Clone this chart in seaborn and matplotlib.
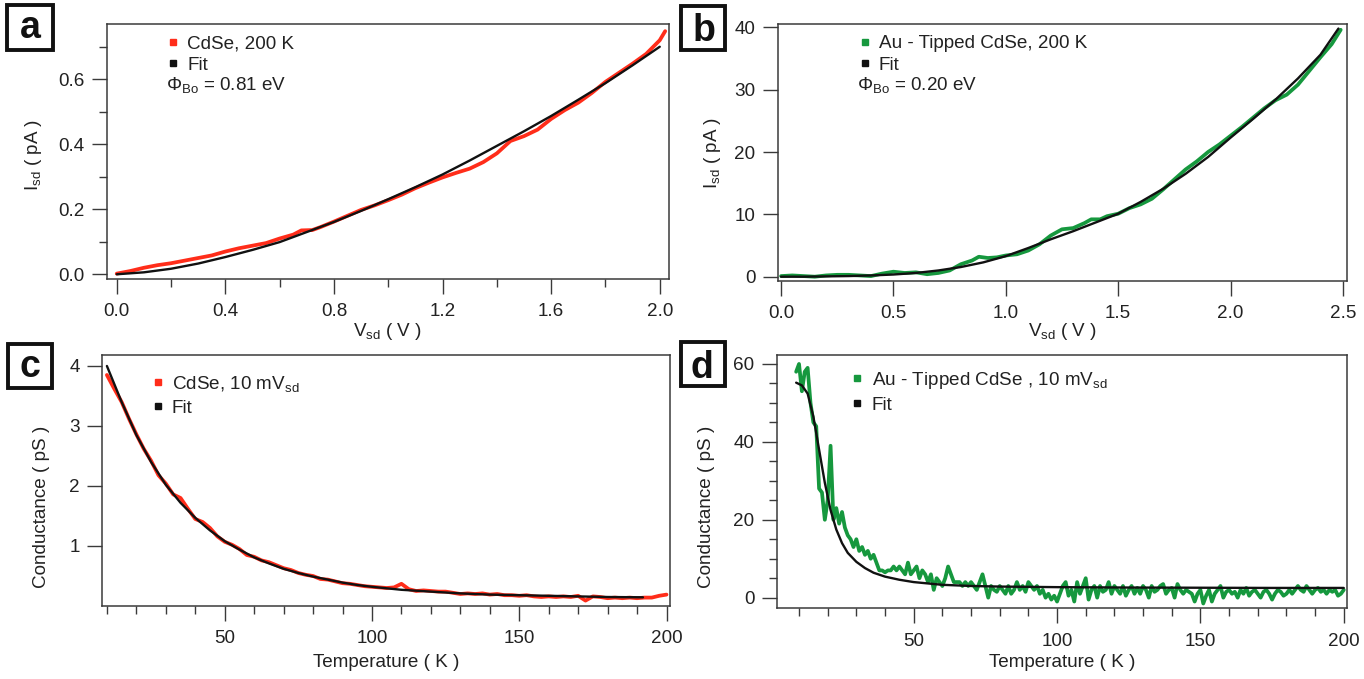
import numpy as np
import pandas as pd
import matplotlib
matplotlib.use("Agg")
import matplotlib.pyplot as plt
import seaborn as sns
from matplotlib.lines import Line2D
from matplotlib.patches import Rectangle
from matplotlib.ticker import MultipleLocator, FormatStrFormatter, NullLocator

# ---------------- data ----------------
# Panel a: CdSe, 200 K  I-V
a_V_data = [0.00, 0.05, 0.10, 0.15, 0.20, 0.25, 0.30, 0.35, 0.40, 0.45, 0.50, 0.55,
            0.60, 0.65, 0.68, 0.72, 0.75, 0.80, 0.85, 0.90, 0.95, 1.00, 1.05, 1.10,
            1.15, 1.20, 1.25, 1.30, 1.35, 1.40, 1.45, 1.50, 1.55, 1.60, 1.65, 1.70,
            1.75, 1.80, 1.85, 1.90, 1.95, 2.00, 2.02]
a_I_data = [0.002, 0.010, 0.020, 0.028, 0.034, 0.042, 0.050, 0.058, 0.070, 0.080, 0.088, 0.096,
            0.110, 0.122, 0.135, 0.136, 0.145, 0.162, 0.180, 0.198, 0.212, 0.228, 0.245, 0.265,
            0.282, 0.298, 0.312, 0.325, 0.345, 0.372, 0.410, 0.425, 0.445, 0.478, 0.505, 0.528,
            0.558, 0.592, 0.620, 0.648, 0.678, 0.720, 0.748]
a_V_fit = [0.0, 0.1, 0.2, 0.3, 0.4, 0.5, 0.6, 0.7, 0.8, 0.9, 1.0,
           1.1, 1.2, 1.3, 1.4, 1.5, 1.6, 1.7, 1.8, 1.9, 2.0]
a_I_fit = [0.000, 0.006, 0.017, 0.033, 0.053, 0.075, 0.099, 0.130, 0.161, 0.195, 0.231,
           0.268, 0.307, 0.350, 0.395, 0.440, 0.487, 0.537, 0.588, 0.643, 0.700]

# Panel b: Au-tipped CdSe, 200 K  I-V
b_V_data = [0.00, 0.05, 0.10, 0.15, 0.20, 0.25, 0.30, 0.35, 0.40, 0.45, 0.50, 0.55, 0.60,
            0.65, 0.70, 0.75, 0.80, 0.85, 0.88, 0.92, 0.96, 1.00, 1.05, 1.10, 1.15, 1.20,
            1.25, 1.30, 1.35, 1.38, 1.42, 1.45, 1.50, 1.55, 1.60, 1.65, 1.70, 1.75, 1.80,
            1.85, 1.90, 1.95, 2.00, 2.05, 2.10, 2.15, 2.20, 2.25, 2.30, 2.35, 2.40, 2.45, 2.49]
b_I_data = [0.1, 0.2, 0.1, 0.0, 0.2, 0.3, 0.3, 0.2, 0.1, 0.5, 0.8, 0.6, 0.7,
            0.4, 0.6, 1.0, 2.0, 2.6, 3.2, 3.0, 3.1, 3.4, 3.6, 4.2, 5.2, 6.6,
            7.6, 7.8, 8.6, 9.2, 9.2, 9.7, 10.1, 11.0, 11.6, 12.5, 14.0, 15.6, 17.2,
            18.5, 20.0, 21.2, 22.6, 24.0, 25.5, 27.0, 28.3, 29.2, 30.8, 33.0, 35.2, 37.3, 39.6]
b_V_fit = [0.0, 0.1, 0.2, 0.3, 0.4, 0.5, 0.6, 0.7, 0.8, 0.9, 1.0, 1.1, 1.2, 1.3,
           1.4, 1.5, 1.6, 1.7, 1.8, 1.9, 2.0, 2.1, 2.2, 2.3, 2.4, 2.48]
b_I_fit = [0.0, 0.0, 0.05, 0.1, 0.2, 0.35, 0.6, 1.0, 1.55, 2.3, 3.3, 4.6, 6.0, 7.3,
           8.7, 10.1, 12.0, 14.1, 16.5, 19.2, 22.3, 25.3, 28.4, 31.8, 35.6, 39.8]

# Panel c: CdSe conductance vs temperature
c_T_data = [10.0, 12.5, 15.0, 17.5, 20.0, 22.5, 25.0, 27.5, 30.0, 32.5, 35.0, 37.5, 40.0,
            42.5, 45.0, 47.5, 50.0, 52.5, 55.0, 57.5, 60.0, 62.5, 65.0, 67.5, 70.0, 72.5,
            75.0, 77.5, 80.0, 82.5, 85.0, 87.5, 90.0, 92.5, 95.0, 97.5, 100.0, 102.5, 105.0,
            107.5, 110.0, 112.5, 115.0, 117.5, 120.0, 122.5, 125.0, 127.5, 130.0, 132.5, 135.0,
            137.5, 140.0, 142.5, 145.0, 147.5, 150.0, 152.5, 155.0, 157.5, 160.0, 162.5, 165.0,
            167.5, 170.0, 172.5, 175.0, 177.5, 180.0, 182.5, 185.0, 187.5, 190.0, 192.5, 195.0,
            197.5, 200.0]
c_G_data = [3.85, 3.62, 3.40, 3.12, 2.86, 2.62, 2.42, 2.18, 2.04, 1.86, 1.80, 1.62, 1.45,
            1.40, 1.30, 1.16, 1.07, 1.02, 0.95, 0.85, 0.82, 0.76, 0.73, 0.68, 0.63, 0.60,
            0.55, 0.52, 0.50, 0.45, 0.44, 0.41, 0.38, 0.37, 0.35, 0.33, 0.32, 0.31, 0.30,
            0.31, 0.37, 0.28, 0.25, 0.26, 0.25, 0.24, 0.24, 0.22, 0.20, 0.21, 0.20,
            0.21, 0.19, 0.20, 0.18, 0.18, 0.17, 0.18, 0.16, 0.15, 0.16, 0.15, 0.16,
            0.15, 0.17, 0.09, 0.16, 0.15, 0.13, 0.14, 0.13, 0.14, 0.13, 0.14, 0.14,
            0.17, 0.19]
c_T_fit = [10, 15, 20, 25, 30, 35, 40, 45, 50, 55, 60, 65, 70, 75, 80, 85, 90, 95,
           100, 110, 120, 130, 140, 150, 160, 170, 180, 192]
c_G_fit = [4.00, 3.40, 2.85, 2.40, 2.02, 1.72, 1.47, 1.26, 1.08, 0.94, 0.81, 0.71, 0.62,
           0.55, 0.49, 0.44, 0.39, 0.35, 0.32, 0.27, 0.24, 0.21, 0.19, 0.18, 0.17, 0.16,
           0.15, 0.145]

# Panel d: Au-tipped CdSe conductance vs temperature (T = 9 ... 200 K, 1 K steps)
d_T_data = list(range(9, 201))
d_G_data = [58, 60, 53, 58, 59, 50, 45, 44, 28, 27, 20, 25, 39, 20, 23, 19, 22, 18, 16, 15,
            13, 15, 12, 13, 11, 12, 10, 11, 9, 7, 7, 6.5, 7, 7, 8, 7, 8, 7, 6, 9,
            6, 7, 8, 5, 7, 6, 4, 6, 2, 5, 4, 3, 5, 8, 6, 4, 4, 4, 3, 4,
            3, 4, 3, 2, 4, 6, 3, 0, 3, 2, 1.5, 3, 2, 1, 3, 1, 2, 4, 2, 3,
            1.5, 4, 3, 2, 3, 1, 2, 0, 1, -0.5, 0.5, -1, 1, 3, 4, 0.5, 2, -1, 4, 1,
            3, 5, -0.5, 2, 3, 0, 3, 1.5, 2, 4, 1, 3, 2, 1, 3, 0.5, 2, 3, 1, 2.5,
            1, 3, 2, 0, 3, 1.5, 2, 3, 3.5, 1, 2, 2.5, 0, 3.5, 2, 1, 2, 1.5, 1, -1,
            1, 2, -1.5, 0.5, 2, -1, 1, 2, 3, 0, 1.5, 2, 1, 1.5, 0, 2, 1, 2.5, 0.5, 1.5,
            2, 1, 0, 1.5, 2, 1, -0.5, 1, 2, 1.5, 0.5, 1, 2, 1, 2, 3, 2, 1.5, 3, 2,
            1, 2, 2.5, 1.5, 2, 1, 2, 1.5, 2, 0.5, 1, 2]
d_T_fit = [9, 11, 13, 15, 17, 19, 21, 23, 25, 27, 30, 33, 36, 40, 45, 50, 60, 70, 80,
           100, 125, 150, 175, 200]
d_G_fit = [55.2, 54.5, 52.4, 46.5, 38.0, 29.5, 22.5, 17.5, 14.0, 11.5, 9.2, 7.6, 6.4, 5.4,
           4.6, 4.0, 3.3, 3.0, 2.85, 2.7, 2.6, 2.55, 2.5, 2.5]

# ---------------- styling ----------------
sns.set_theme(style="ticks")
FONT = "Liberation Sans"
plt.rcParams["font.family"] = [FONT, "DejaVu Sans"]
plt.rcParams["mathtext.fontset"] = "custom"
plt.rcParams["mathtext.rm"] = FONT
plt.rcParams["mathtext.it"] = FONT + ":italic"
plt.rcParams["mathtext.bf"] = FONT + ":bold"

RED = "#ff2d1a"
GREEN = "#16983e"
BLACK = "#111111"
SPINE = "#3a3a3a"
TXT = "#222222"
FS = 13.6

W, H = 1364, 679
fig = plt.figure(figsize=(W / 100, H / 100), dpi=100)
fig.patch.set_facecolor("white")


def fx(x):
    return x / W


def fy(y):
    return 1 - y / H


def px_axes(l, t, r, b):
    return fig.add_axes([fx(l), fy(b), (r - l) / W, (b - t) / H])


def style(ax, xmaj, xmin, ymaj, ymin, xfmt, yfmt):
    for s in ax.spines.values():
        s.set_color(SPINE)
        s.set_linewidth(1.1)
    ax.xaxis.set_major_locator(MultipleLocator(xmaj))
    ax.yaxis.set_major_locator(MultipleLocator(ymaj))
    ax.xaxis.set_minor_locator(MultipleLocator(xmin) if xmin else NullLocator())
    ax.yaxis.set_minor_locator(MultipleLocator(ymin) if ymin else NullLocator())
    ax.xaxis.set_major_formatter(FormatStrFormatter(xfmt))
    ax.yaxis.set_major_formatter(FormatStrFormatter(yfmt))
    ax.tick_params(which="major", direction="out", length=10.5, width=1.0,
                   color=SPINE, labelsize=FS, labelcolor=TXT)
    ax.tick_params(axis="x", which="major", pad=7.0)
    ax.tick_params(axis="y", which="major", pad=5.5)
    ax.tick_params(which="minor", direction="out", length=5.5, width=1.0, color=SPINE)
    ax.set_facecolor("white")


def draw(ax, x, y, color, lw, z):
    df = pd.DataFrame({"x": x, "y": y})
    sns.lineplot(data=df, x="x", y="y", ax=ax, color=color, linewidth=lw,
                 estimator=None, sort=False, legend=False, zorder=z)


def legend(ax, entries, x, y, spacing):
    handles = [Line2D([], [], ls="none", marker="s", ms=4.5, mfc=c, mec=c) for c, _ in entries]
    labels = [l for _, l in entries]
    ax.legend(handles, labels, loc="upper left", bbox_to_anchor=(fx(x), fy(y)),
              bbox_transform=fig.transFigure, frameon=False, fontsize=FS,
              handlelength=0.5, handletextpad=0.5, labelspacing=spacing,
              borderpad=0, borderaxespad=0, labelcolor=TXT)


def labels(ax, xl, yl, xcx, xtop, yright, ycy):
    ax.set_xlabel(xl, fontsize=FS, color=TXT)
    ax.set_ylabel(yl, fontsize=FS, color=TXT)
    ax.xaxis.set_label_coords(fx(xcx), fy(xtop), transform=fig.transFigure)
    ax.yaxis.set_label_coords(fx(yright), fy(ycy), transform=fig.transFigure)


def panel_letter(letter, x0, y0, x1, y1, cx, base):
    fig.patches.append(Rectangle((fx(x0), fy(y1)), (x1 - x0) / W, (y1 - y0) / H,
                                 transform=fig.transFigure, fc="white", ec=BLACK,
                                 lw=2.8, zorder=5))
    fig.text(fx(cx), fy(base), letter, ha="center", va="baseline", fontsize=27,
             fontweight="bold", color=BLACK, zorder=6)


# ---- panel a ----
axa = px_axes(106.7, 24, 668.7, 278.5)
draw(axa, a_V_data, a_I_data, RED, 2.7, 2)
draw(axa, a_V_fit, a_I_fit, BLACK, 1.7, 3)
axa.set_xlim(-0.037, 2.033)
axa.set_ylim(-0.013, 0.770)
style(axa, 0.4, 0.2, 0.2, 0.1, "%.1f", "%.1f")
labels(axa, r"V$_{\mathrm{sd}}$ ( V )", r"I$_{\mathrm{sd}}$ ( pA )", 387.7, 321, 43.5, 155)
legend(axa, [(RED, "CdSe, 200 K"), (BLACK, "Fit")], 168.5, 35, 0.22)
fig.text(fx(166), fy(90), r"$\Phi_{\mathrm{Bo}}$ = 0.81 eV", fontsize=FS, color=TXT,
         ha="left", va="baseline")

# ---- panel b ----
axb = px_axes(777.7, 24, 1347.2, 281)
draw(axb, b_V_data, b_I_data, GREEN, 2.7, 2)
draw(axb, b_V_fit, b_I_fit, BLACK, 1.7, 3)
axb.set_xlim(-0.015, 2.519)
axb.set_ylim(-0.69, 40.53)
style(axb, 0.5, None, 10, None, "%.1f", "%d")
labels(axb, r"V$_{\mathrm{sd}}$ ( V )", r"I$_{\mathrm{sd}}$ ( pA )", 1062.5, 321, 723.3, 153)
legend(axb, [(GREEN, "Au - Tipped CdSe, 200 K"), (BLACK, "Fit")], 860, 35, 0.22)
fig.text(fx(857), fy(90), r"$\Phi_{\mathrm{Bo}}$ = 0.20 eV", fontsize=FS, color=TXT,
         ha="left", va="baseline")

# ---- panel c ----
axc = px_axes(102.2, 355, 669.6, 605.7)
draw(axc, c_T_data, c_G_data, RED, 2.7, 2)
draw(axc, c_T_fit, c_G_fit, BLACK, 1.7, 3)
axc.set_xlim(8.4, 201.05)
axc.set_ylim(0.005, 4.183)
style(axc, 50, 10, 1, None, "%d", "%d")
labels(axc, "Temperature ( K )", "Conductance ( pS )", 385.9, 654, 50, 507)
legend(axc, [(RED, r"CdSe, 10 mV$_{\mathrm{sd}}$"), (BLACK, "Fit")], 153, 374, 0.3)

# ---- panel d ----
axd = px_axes(776.8, 355, 1347.2, 608.3)
draw(axd, d_T_data, d_G_data, GREEN, 2.7, 2)
draw(axd, d_T_fit, d_G_fit, BLACK, 1.7, 3)
axd.set_xlim(2.25, 201.2)
axd.set_ylim(-2.73, 62.3)
style(axd, 50, 10, 20, 5, "%d", "%d")
labels(axd, "Temperature ( K )", "Conductance ( pS )", 1062, 654, 714.6, 507)
legend(axd, [(GREEN, r"Au - Tipped CdSe , 10 mV$_{\mathrm{sd}}$"), (BLACK, "Fit")], 852.7, 370, 0.3)

# ---- panel letters ----
panel_letter("a", 7, 5, 53, 50, 30, 38)
panel_letter("b", 681, 6, 725, 50, 703.5, 41)
panel_letter("c", 8, 344, 52, 388, 30.4, 377)
panel_letter("d", 681, 342, 725, 386, 702, 378)

fig.savefig("out.png", dpi=100, facecolor="white")
